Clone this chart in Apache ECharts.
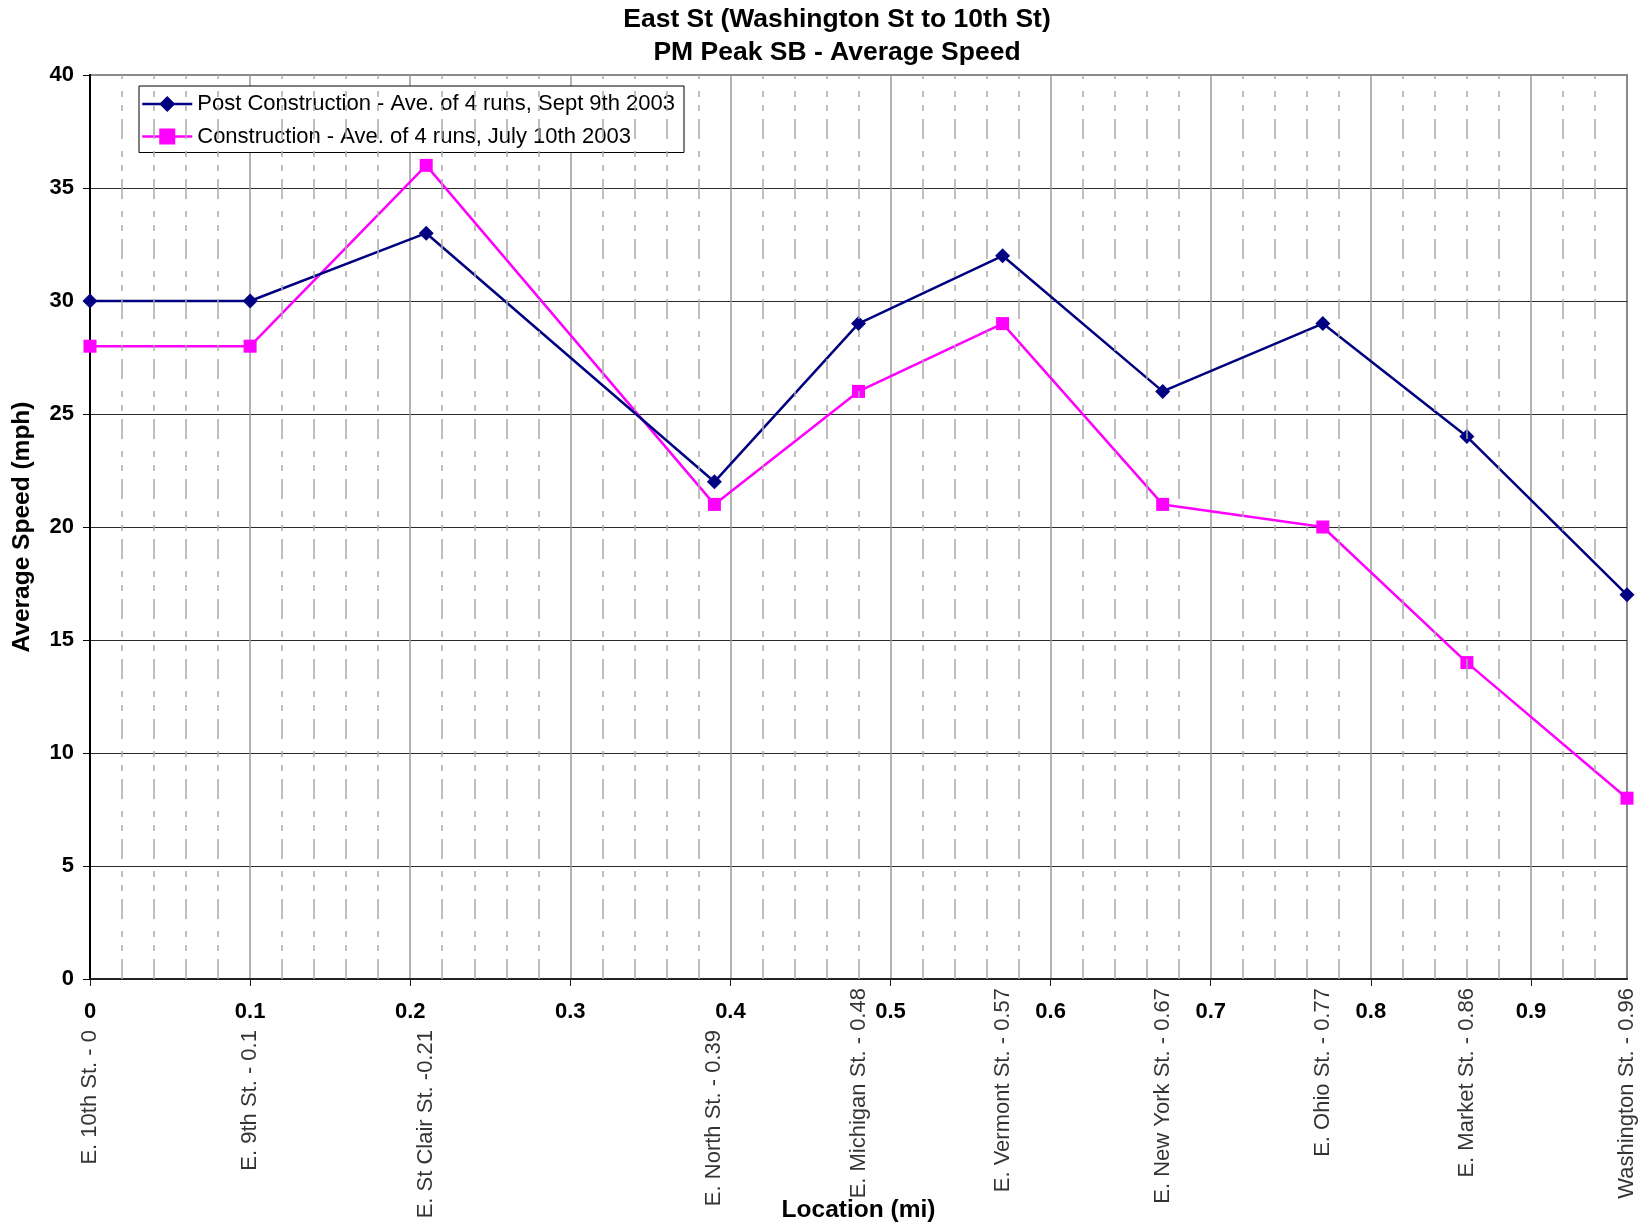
<!DOCTYPE html>
<html>
<head>
<meta charset="utf-8">
<title>East St PM Peak SB - Average Speed</title>
<script src="https://cdn.jsdelivr.net/npm/echarts@6/dist/echarts.min.js"></script>
<style>
  html, body { margin: 0; padding: 0; background: #fff; }
  #chart { width: 1647px; height: 1230px; }
</style>
</head>
<body>
<div id="chart"></div>
<script>
// Stations along East St, southbound, with their distance (mi) from 10th St
const stations = [
  'E. 10th St. - 0', 'E. 9th St. - 0.1', 'E. St Clair St. -0.21', 'E. North St. - 0.39',
  'E. Michigan St. - 0.48', 'E. Vermont St. - 0.57', 'E. New York St. - 0.67',
  'E. Ohio St. - 0.77', 'E. Market St. - 0.86', 'Washington St. - 0.96'
];
const locations = [0, 0.1, 0.21, 0.39, 0.48, 0.57, 0.67, 0.77, 0.86, 0.96];

// Average speeds (mph)
const postSpeed = [30, 30, 33, 22, 29, 32, 26, 29, 24, 17];
const constructionSpeed = [28, 28, 36, 21, 26, 29, 21, 20, 14, 8];

const seriesNames = [
  'Post Construction - Ave. of 4 runs, Sept 9th 2003',
  'Construction - Ave. of 4 runs, July 10th 2003'
];

// Axis ticks
const xTickValues = [0, 0.1, 0.2, 0.3, 0.4, 0.5, 0.6, 0.7, 0.8, 0.9];
const xMax = 0.96;
const xMinorStep = 0.02;
const yMin = 0, yMax = 40, yStep = 5;

const FONT = '"Liberation Sans", Arial, Helvetica, sans-serif';

// Minor vertical dashed gridlines every 0.02 mi (skipping the 0.1 major lines)
const minorLines = [];
for (let i = 1; i * xMinorStep < xMax - 1e-9; i++) {
  if (i % 5 !== 0) minorLines.push({ xAxis: +(i * xMinorStep).toFixed(2) });
}

// Station name labels hang below the axis; ones that sit next to a
// numbered tick drop below the tick-label row.
const stationPoints = locations.map((x, i) => {
  const nearTick = Math.abs(x - Math.round(x * 10) / 10) < 0.015;
  return {
    value: [x, 0],
    label: { distance: nearTick ? 51 : 9 }
  };
});

const chart = echarts.init(document.getElementById('chart'), null, { renderer: 'canvas' });

chart.setOption({
  backgroundColor: '#ffffff',
  animation: false,
  title: {
    text: 'East St (Washington St to 10th St)\nPM Peak SB - Average Speed',
    left: 837,
    top: 3,
    textAlign: 'center',
    padding: 0,
    textStyle: {
      fontFamily: FONT, fontSize: 26.5, fontWeight: 'bold', color: '#000', lineHeight: 33
    }
  },
  legend: {
    orient: 'vertical',
    left: 139,
    top: 86,
    padding: [5, 9, 3, 2],
    itemGap: 6.5,
    itemWidth: 50,
    itemHeight: 20,
    backgroundColor: '#ffffff',
    borderColor: '#000000',
    borderWidth: 1,
    borderRadius: 0,
    data: seriesNames,
    lineStyle: { width: 2.5 },
    textStyle: { fontFamily: FONT, fontSize: 22, color: '#000', lineHeight: 26, padding: [0, 0, 0, 0] }
  },
  grid: {
    left: 90,
    right: 20,
    top: 75,
    bottom: 251,
    show: true,
    borderColor: '#8a8a8a',
    borderWidth: 2,
    backgroundColor: '#ffffff'
  },
  xAxis: {
    type: 'value',
    min: 0,
    max: xMax,
    interval: 0.1,
    name: 'Location (mi)',
    nameLocation: 'middle',
    nameGap: 219,
    nameTextStyle: { fontFamily: FONT, fontSize: 24.5, fontWeight: 'bold', color: '#000' },
    axisLine: { show: true, onZero: false, lineStyle: { color: '#222', width: 2 } },
    axisTick: {
      show: true, inside: false, length: 7,
      customValues: xTickValues,
      lineStyle: { color: '#222', width: 1 }
    },
    axisLabel: {
      customValues: xTickValues,
      margin: 22,
      fontFamily: FONT, fontSize: 22, fontWeight: 'bold', color: '#000',
      formatter: v => String(+v.toFixed(2))
    },
    splitLine: {
      show: true,
      showMinLine: false,
      lineStyle: { color: '#9a9a9a', width: 1.5 }
    },
    minorTick: { show: false },
    minorSplitLine: { show: false }
  },
  yAxis: {
    type: 'value',
    min: yMin,
    max: yMax,
    interval: yStep,
    name: 'Average Speed (mph)',
    nameLocation: 'middle',
    nameGap: 55,
    nameTextStyle: { fontFamily: FONT, fontSize: 24.5, fontWeight: 'bold', color: '#000' },
    axisLine: { show: true, lineStyle: { color: '#000', width: 2 } },
    axisTick: { show: true, inside: false, length: 7, lineStyle: { color: '#000', width: 1 } },
    axisLabel: {
      margin: 16,
      fontFamily: FONT, fontSize: 22, fontWeight: 'bold', color: '#000'
    },
    splitLine: {
      show: true,
      showMinLine: false,
      showMaxLine: false,
      lineStyle: { color: '#2a2a2a', width: 1.2 }
    }
  },
  series: [
    {
      // station labels under the axis + minor dashed gridlines
      type: 'scatter',
      name: 'stations',
      silent: true,
      z: 1,
      symbol: 'circle',
      symbolSize: 0.1,
      itemStyle: { color: 'rgba(0,0,0,0)' },
      data: stationPoints,
      label: {
        show: true,
        position: 'bottom',
        rotate: 90,
        align: 'right',
        verticalAlign: 'middle',
        fontFamily: FONT,
        fontSize: 22,
        color: '#000',
        formatter: p => stations[p.dataIndex]
      },
      labelLayout: { hideOverlap: false },
      markLine: {
        silent: true,
        symbol: ['none', 'none'],
        label: { show: false },
        emphasis: { disabled: true },
        lineStyle: {
          color: '#ababab',
          width: 1.5,
          type: [20, 8, 6, 8, 6, 12]
        },
        data: minorLines
      }
    },
    {
      name: seriesNames[0],
      type: 'line',
      z: 4,
      data: locations.map((x, i) => [x, postSpeed[i]]),
      symbol: 'diamond',
      symbolSize: 15,
      showAllSymbol: true,
      lineStyle: { color: '#000080', width: 2.5 },
      itemStyle: { color: '#000080', borderWidth: 0 },
      emphasis: { disabled: true }
    },
    {
      name: seriesNames[1],
      type: 'line',
      z: 3,
      data: locations.map((x, i) => [x, constructionSpeed[i]]),
      symbol: 'rect',
      symbolSize: 13,
      showAllSymbol: true,
      lineStyle: { color: '#ff00ff', width: 2.5 },
      itemStyle: { color: '#ff00ff', borderWidth: 0 },
      emphasis: { disabled: true }
    }
  ]
});
</script>
</body>
</html>
